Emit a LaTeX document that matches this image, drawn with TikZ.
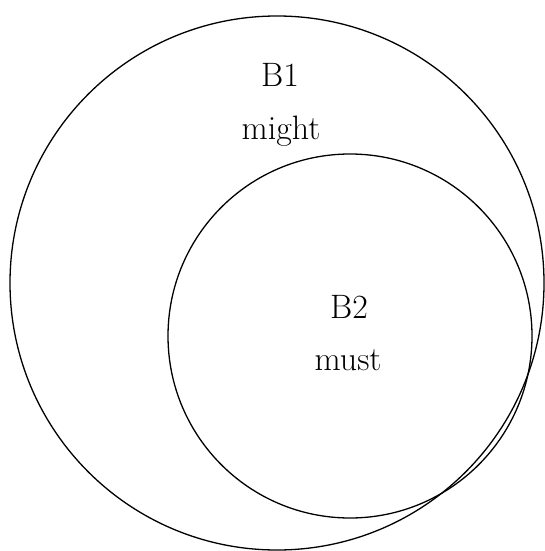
\documentclass[tikz,border=0pt]{standalone}
\begin{document}
\begin{tikzpicture}[x=1bp,y=-1bp,
  ring/.style={draw=black,line width=1.3bp},
  lbl/.style={anchor=base,inner sep=0pt,font=\fontsize{34}{40}\selectfont}]
\useasboundingbox (0,0) rectangle (545,551);
\draw[ring] (277,283) circle[radius=267];
\draw[ring] (350,336) circle[radius=182];
\node[lbl] (b1) at (280,87) {B1};
\node[lbl] (might) at (281,140) {might};
\node[lbl] (b2) at (349,318) {B2};
\node[lbl] (must) at (348,370) {must};
\end{tikzpicture}
\end{document}
